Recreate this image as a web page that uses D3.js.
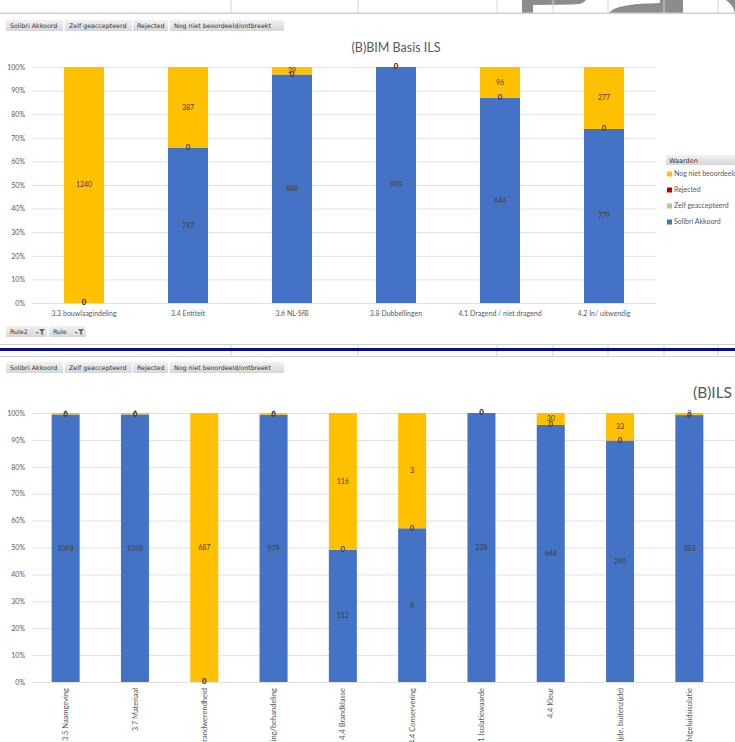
<!DOCTYPE html>
<html><head><meta charset="utf-8">
<script src="https://cdn.jsdelivr.net/npm/d3@7"></script>
<style>body{margin:0;background:#fff;overflow:hidden}svg{display:block}</style>
</head><body>
<svg id="c" width="735" height="742"></svg>
<script>
const seriesNames = ["Solibri Akkoord", "Zelf geaccepteerd", "Rejected", "Nog niet beoordeeld/ontbreekt"];
const seriesColors = ["#4472C4", "#A9D18E", "#C00000", "#FFC000"];

const topTitle = "(B)BIM Basis ILS";
const topCategories = ["3.3 bouwlaagindeling", "3.4 Entiteit", "3.6 NL-SfB", "3.8 Dubbellingen", "4.1 Dragend / niet dragend", "4.2 In/ uitwendig"];
const topSolibri  = [0, 747, 888, 990, 644, 779];
const topZelf     = [0, 0, 0, 0, 0, 0];
const topRejected = [0, 0, 0, 0, 0, 0];
const topNog      = [1240, 387, 29, 0, 96, 277];

const bottomTitle = "(B)ILS";
const bottomCategories = ["3.5 Naamgeving", "3.7 Materiaal", "4.4 Brandwerendheid", "4.4 Afwerking/behandeling", "4.4 Brandklasse", "4.4 Conservering", "4.4.1 Isolatiewaarde", "4.4 Kleur", "4.4 Kleur (binnenzijde, buitenzijde)", "4.4 Luchtgeluidsisolatie"];
const bottomSolibri  = [1098, 1098, 0, 979, 112, 4, 228, 644, 290, 383];
const bottomZelf     = [0, 0, 0, 0, 0, 0, 0, 0, 0, 0];
const bottomRejected = [0, 0, 0, 0, 0, 0, 0, 0, 0, 0];
const bottomNog      = [6, 6, 687, 6, 116, 3, 0, 30, 33, 3];

const yTicks = [0, 0.1, 0.2, 0.3, 0.4, 0.5, 0.6, 0.7, 0.8, 0.9, 1];
const fieldButtons = ["Solibri Akkoord", "Zelf geaccepteerd", "Rejected", "Nog niet beoordeeld/ontbreekt"];
const ruleButtons = ["Rule2", "Rule"];
const legendTitle = "Waarden";

const FONT = "Lato, 'Open Sans', sans-serif";
const svg = d3.select("#c");

// gradient for buttons
const defs = svg.append("defs");
const gr = defs.append("linearGradient").attr("id", "btn").attr("x1", 0).attr("y1", 0).attr("x2", 0).attr("y2", 1);
gr.append("stop").attr("offset", "0%").attr("stop-color", "#f2f2f2");
gr.append("stop").attr("offset", "100%").attr("stop-color", "#d6d6d6");

// ---- top sheet strip ----
const cellLines = [231, 358, 497, 553, 608, 664, 718];
svg.append("rect").attr("x", 522).attr("y", 0).attr("width", 11).attr("height", 13).attr("fill", "#8c8c8c");
svg.append("path").attr("d", "M533,0 L586,0 Q584,4 572,4.5 L533,5 Z").attr("fill", "#8c8c8c");
svg.append("path").attr("d", "M609,13 C613,7 628,4 650,3.5 L660,3 L660,13 Z").attr("fill", "#8c8c8c");
svg.append("rect").attr("x", 660).attr("y", 0).attr("width", 23).attr("height", 13).attr("fill", "#8c8c8c");
svg.append("path").attr("d", "M726,0 Q733,5 735,13 L735,0 Z").attr("fill", "#8c8c8c");
cellLines.forEach(x => svg.append("line").attr("x1", x).attr("x2", x).attr("y1", 0).attr("y2", 13).attr("stroke", "#d4d4d4"));
svg.append("rect").attr("x", 0).attr("y", 12.5).attr("width", 735).attr("height", 1.5).attr("fill", "#cfcfcf");

function drawButtons(y, labels, xs, ws, filter) {
  labels.forEach((t, i) => {
    const g = svg.append("g").attr("transform", `translate(${xs[i]},${y})`);
    g.append("rect").attr("width", ws[i]).attr("height", 11).attr("fill", "url(#btn)");
    g.append("text").attr("x", 4).attr("y", 8).attr("font-size", 6.3).attr("font-family", "'DejaVu Sans', sans-serif")
      .attr("fill", "#333").text(t);
    if (filter) {
      g.append("path").attr("d", `M${ws[i]-11},${6} l2.5,0 l-1.25,1.8 Z`).attr("fill", "#555");
      g.append("path").attr("d", `M${ws[i]-8},${3} l6,0 l-2.2,2.6 l0,3.5 l-1.6,-0.8 l0,-2.7 Z`).attr("fill", "#666");
    }
  });
}
const btnX = [6, 65, 133, 170], btnW = [57, 67, 35, 114];
drawButtons(20, fieldButtons, btnX, btnW, false);

// ---- chart drawing ----
function drawChart(cats, solibri, zelf, rejected, nog, cfg) {
  const rows = cats.map((c, i) => ({cat: c, s0: solibri[i], s1: zelf[i], s2: rejected[i], s3: nog[i]}));
  const stack = d3.stack().keys(["s0", "s1", "s2", "s3"]).offset(d3.stackOffsetExpand);
  const layers = stack(rows);
  const y = d3.scaleLinear().domain([0, 1]).range([cfg.y0, cfg.y1]);
  const x = d3.scaleBand().domain(cats).range(cfg.xr).paddingInner(0).paddingOuter(0);
  const bw = x.bandwidth() * cfg.barFrac;
  const g = svg.append("g");

  // gridlines
  const grid = g.append("g").attr("transform", `translate(${cfg.gx2},0)`)
    .call(d3.axisLeft(y).tickValues(yTicks).tickSize(cfg.gx2 - cfg.gx1).tickFormat(""));
  grid.select(".domain").remove();
  grid.selectAll("line").attr("stroke", "#d9d9d9").attr("stroke-width", 0.8);

  // y labels
  const ya = g.append("g").attr("transform", `translate(26,0)`)
    .call(d3.axisLeft(y).tickValues(yTicks).tickSize(0).tickPadding(1).tickFormat(d3.format(".0%")));
  ya.select(".domain").remove();
  ya.selectAll("text").attr("font-size", 7).attr("font-family", FONT).attr("fill", "#595959");

  // bars
  layers.forEach((L, k) => {
    g.append("g").selectAll("rect").data(L).join("rect")
      .attr("x", d => x(d.data.cat) + (x.bandwidth() - bw) / 2)
      .attr("width", bw)
      .attr("y", d => y(d[1]))
      .attr("height", d => Math.max(0, y(d[0]) - y(d[1])))
      .attr("fill", seriesColors[k]);
  });
  // data labels
  layers.forEach((L, k) => {
    g.append("g").selectAll("text").data(L).join("text")
      .attr("x", d => x(d.data.cat) + x.bandwidth() / 2)
      .attr("y", d => y((d[0] + d[1]) / 2))
      .attr("dy", "0.35em").attr("text-anchor", "middle")
      .attr("font-size", 7).attr("font-family", FONT).attr("fill", "#404040")
      .text(d => d.data[L.key]);
  });

  // x axis
  const xa = g.append("g").attr("transform", `translate(0,${cfg.y0})`)
    .call(d3.axisBottom(x).tickSize(0).tickPadding(8));
  xa.select(".domain").remove();
  xa.selectAll("text").attr("font-size", cfg.rotate ? 7.5 : 7).attr("font-family", FONT).attr("fill", "#595959");
  if (cfg.rotate) {
    xa.selectAll("text").attr("transform", "rotate(-90)").attr("x", -6).attr("y", 0)
      .attr("dy", "0.35em").attr("text-anchor", "end");
  }
}

// top title
svg.append("text").attr("x", 396).attr("y", 52).attr("text-anchor", "middle")
  .attr("font-size", 12.5).attr("font-family", FONT).attr("fill", "#595959").text(topTitle);

drawChart(topCategories, topSolibri, topZelf, topRejected, topNog,
  {y0: 303, y1: 67, xr: [32, 656], barFrac: 40 / 104, gx1: 32, gx2: 656, rotate: false});

// legend
const lg = svg.append("g").attr("transform", "translate(666,155)");
lg.append("rect").attr("width", 69).attr("height", 10).attr("fill", "url(#btn)");
lg.append("text").attr("x", 3).attr("y", 7.5).attr("font-size", 6.5).attr("font-family", "'DejaVu Sans', sans-serif").attr("fill", "#333").text(legendTitle);
const legendIdx = [3, 2, 1, 0];
legendIdx.forEach((k, i) => {
  const yy = 19 + i * 16;
  lg.append("rect").attr("x", 1).attr("y", yy - 2.5).attr("width", 5).attr("height", 5).attr("fill", seriesColors[k]);
  lg.append("text").attr("x", 8).attr("y", yy).attr("dy", "0.35em").attr("font-size", 7).attr("font-family", FONT)
    .attr("fill", "#595959").text(seriesNames[k]);
});

// rule buttons
drawButtons(326, ruleButtons, [6, 49], [41, 37], true);

// separator lines
svg.append("line").attr("x1", 0).attr("x2", 735).attr("y1", 344.5).attr("y2", 344.5).attr("stroke", "#d0d0d0");
svg.append("line").attr("x1", 0).attr("x2", 735).attr("y1", 356.5).attr("y2", 356.5).attr("stroke", "#d0d0d0");
cellLines.forEach(x => svg.append("line").attr("x1", x).attr("x2", x).attr("y1", 344).attr("y2", 357).attr("stroke", "#d4d4d4"));
svg.append("rect").attr("x", 0).attr("y", 348).attr("width", 735).attr("height", 3).attr("fill", "#0c0c8c");

drawButtons(362, fieldButtons, btnX, btnW, false);

// bottom title
svg.append("text").attr("x", 693).attr("y", 398).attr("text-anchor", "start")
  .attr("font-size", 15.5).attr("font-family", FONT).attr("fill", "#595959").text(bottomTitle);

drawChart(bottomCategories, bottomSolibri, bottomZelf, bottomRejected, bottomNog,
  {y0: 682, y1: 413, xr: [31, 724], barFrac: 28 / 69.3, gx1: 32, gx2: 735, rotate: true});
</script>
</body></html>
